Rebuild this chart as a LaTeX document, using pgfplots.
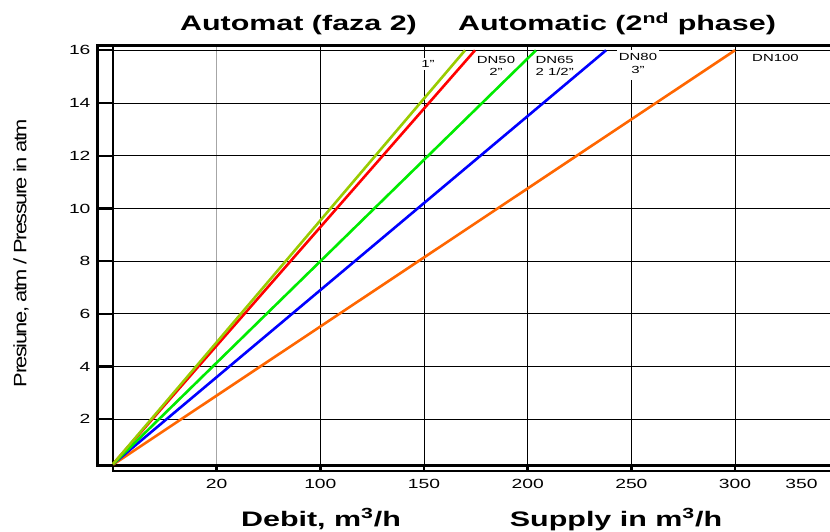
\documentclass[border=0pt]{standalone}
\usepackage{pgfplots}
\pgfplotsset{compat=1.18}
\usepackage{fontspec}
\setmainfont{Liberation Sans}
\usepackage{graphicx}
\newcommand{\W}[1]{\scalebox{1.45}[1]{#1}}
\definecolor{colive}{RGB}{153,204,0}
\definecolor{cred}{RGB}{255,0,0}
\definecolor{cgreen}{RGB}{0,235,0}
\definecolor{cblue}{RGB}{0,0,255}
\definecolor{corange}{RGB}{255,102,0}
\begin{document}
\begin{tikzpicture}[x=1pt,y=1pt]
\useasboundingbox (0,0) rectangle (830,531);
\begin{axis}[
  at={(97pt,66pt)}, anchor=south west,
  scale only axis, width=733pt, height=420pt,
  xmin=-7.72, xmax=345.8, ymin=0.266, ymax=16.2,
  clip=false,
  axis line style={draw=none},
  major tick style={draw=none},
  xtick={50,100,150,200,250,300},
  xticklabels={\W{20},\W{100},\W{150},\W{200},\W{250},\W{300}},
  extra x ticks={332}, extra x tick labels={\W{350}},
  extra x tick style={major tick length=0pt},
  ytick={2,4,6,8,10,12,14,16},
  yticklabels={\W{2},\W{4},\W{6},\W{8},\W{10},\W{12},\W{14},\W{16}},
  tick label style={font=\fontsize{13.3}{13.3}\selectfont},
  xticklabel style={yshift=-11pt},
  yticklabel style={xshift=-3pt},
]
% vertical grid
\draw[gray!70, line width=1pt] (axis cs:50,0.266) -- (axis cs:50,16.2);
\pgfplotsinvokeforeach{100,150,200,250,300}{
  \draw[black, line width=0.9pt] (axis cs:#1,0.266) -- (axis cs:#1,16.2);
  \draw[black, line width=2.6pt] (axis cs:#1,0.266) -- (axis cs:#1,0.0);
}
\draw[black, line width=2.6pt] (axis cs:50,0.266) -- (axis cs:50,0.0);
% horizontal grid and y ticks
\pgfplotsinvokeforeach{2,4,6,8,10,12,14,16}{
  \draw[black, line width=0.9pt] (axis cs:0,#1) -- (axis cs:345.8,#1);
  \draw[black, line width=2.4pt] (axis cs:-7.72,#1) -- (axis cs:0,#1);
}
% frame
\draw[black, line width=3pt] (axis cs:345.8,16.2) -- (axis cs:-7.72,16.2) -- (axis cs:-7.72,0.266) -- (axis cs:345.8,0.266);
\draw[black, line width=2.6pt] (axis cs:0,16.2) -- (axis cs:0,0.0);
\draw[black, line width=1.8pt] (axis cs:0,0.03) -- (axis cs:345.8,0.03);
% labels
\node[fill=white, inner sep=2.5pt, font=\fontsize{10.3}{12}\selectfont] at (axis cs:151.9,15.48) {\W{1"}};
\node[fill=white, inner sep=2pt, font=\fontsize{10.3}{12}\selectfont] at (axis cs:184.7,15.37) {\W{\begin{tabular}{@{}c@{}}DN50\\2"\end{tabular}}};
\node[fill=white, inner sep=2pt, font=\fontsize{10.3}{12}\selectfont] at (axis cs:213.0,15.37) {\W{\begin{tabular}{@{}c@{}}DN65\\2 1/2"\end{tabular}}};
\node[fill=white, inner sep=2pt, font=\fontsize{10.3}{13}\selectfont] at (axis cs:253.2,15.45) {\W{\begin{tabular}{@{}c@{}}DN80\\3"\end{tabular}}};
\node[fill=white, inner sep=2.5pt, font=\fontsize{10.3}{12}\selectfont] at (axis cs:319.5,15.71) {\W{DN100}};
% data
\addplot[corange, line width=2.6pt] coordinates {(0,0.28) (300,16)};
\addplot[cblue, line width=2.6pt] coordinates {(0,0.3) (237.8,16)};
\addplot[cred, line width=2.6pt] coordinates {(0,0.3) (174.6,16)};
\addplot[cgreen, line width=2.6pt] coordinates {(0,0.3) (204.0,16)};
\addplot[colive, line width=2.6pt] coordinates {(0,0.3) (169.8,16)};
\end{axis}
\node[anchor=base, font=\bfseries\fontsize{21}{21}\selectfont] at (298.5,500) {\W{Automat (faza 2)}};
\node[anchor=base, font=\bfseries\fontsize{21}{21}\selectfont] at (617,500) {\W{Automatic (2\textsuperscript{nd} phase)}};
\node[anchor=base, font=\bfseries\fontsize{21}{21}\selectfont] at (321,5) {\W{Debit, m\textsuperscript{3}/h}};
\node[anchor=base, font=\bfseries\fontsize{21}{21}\selectfont] at (616,5) {\W{Supply in m\textsuperscript{3}/h}};
\node[rotate=90, inner sep=0pt] at (21,278) {\resizebox{268pt}{13pt}{\addfontfeature{LetterSpace=-7}Presiune, atm / Pressure in atm}};
\end{tikzpicture}
\end{document}
